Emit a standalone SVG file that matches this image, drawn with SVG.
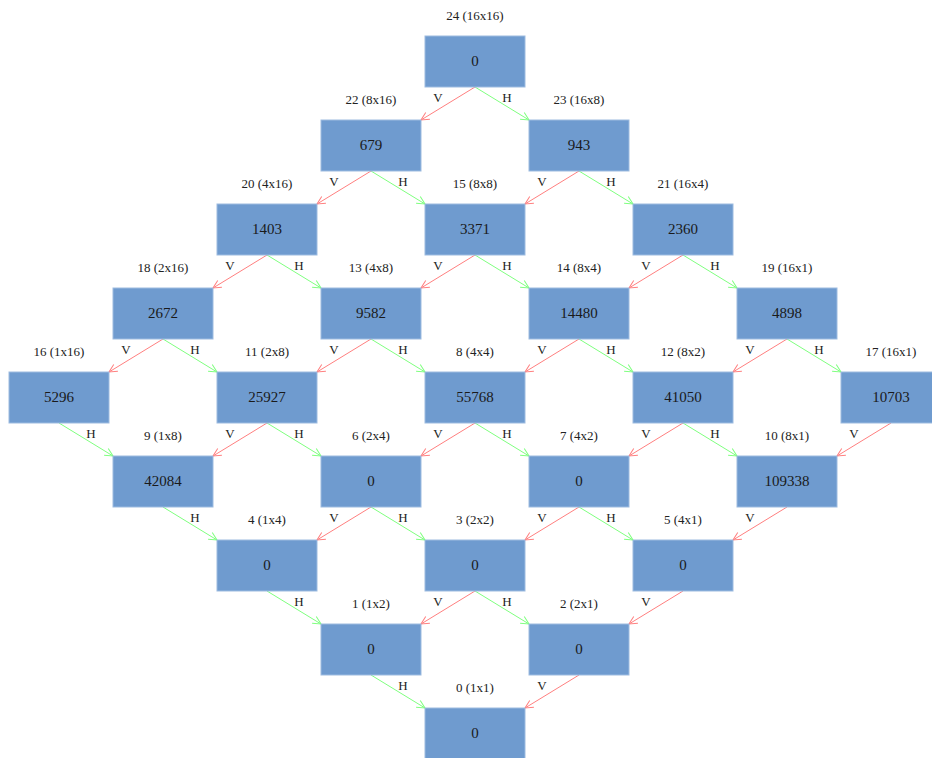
<svg xmlns="http://www.w3.org/2000/svg" width="932" height="758" viewBox="0 0 932 758">
<style>
.box{fill:#6F9BCF;stroke:#9DBBE0;stroke-width:1}
.lbl{font-family:"Liberation Serif",serif;font-size:13px;fill:#222;text-anchor:middle}
.val{font-family:"Liberation Serif",serif;font-size:15px;fill:#1a1a1a;text-anchor:middle}
.el{font-family:"Liberation Serif",serif;font-size:13px;fill:#222;text-anchor:middle}
.v{stroke:#FF7F7F;stroke-width:1;fill:none;marker-end:url(#ar)}
.h{stroke:#7FFF7F;stroke-width:1;fill:none;marker-end:url(#ag)}
</style>
<defs>
<marker id="ar" markerWidth="10" markerHeight="10" refX="9" refY="5" orient="auto" markerUnits="userSpaceOnUse"><path d="M1,1 L9,5 L1,9" fill="none" stroke="#FF7F7F" stroke-width="1"/></marker>
<marker id="ag" markerWidth="10" markerHeight="10" refX="9" refY="5" orient="auto" markerUnits="userSpaceOnUse"><path d="M1,1 L9,5 L1,9" fill="none" stroke="#7FFF7F" stroke-width="1"/></marker>
</defs>
<rect width="932" height="758" fill="#fff"/>
<g id="connectors">
<line class="v" x1="475" y1="87" x2="421" y2="120"/><line class="h" x1="475" y1="87" x2="529" y2="120"/>
<line class="v" x1="371" y1="171" x2="317" y2="204"/><line class="h" x1="371" y1="171" x2="425" y2="204"/>
<line class="v" x1="579" y1="171" x2="525" y2="204"/><line class="h" x1="579" y1="171" x2="633" y2="204"/>
<line class="v" x1="267" y1="255" x2="213" y2="288"/><line class="h" x1="267" y1="255" x2="321" y2="288"/>
<line class="v" x1="475" y1="255" x2="421" y2="288"/><line class="h" x1="475" y1="255" x2="529" y2="288"/>
<line class="v" x1="683" y1="255" x2="629" y2="288"/><line class="h" x1="683" y1="255" x2="737" y2="288"/>
<line class="v" x1="163" y1="339" x2="109" y2="372"/><line class="h" x1="163" y1="339" x2="217" y2="372"/>
<line class="v" x1="371" y1="339" x2="317" y2="372"/><line class="h" x1="371" y1="339" x2="425" y2="372"/>
<line class="v" x1="579" y1="339" x2="525" y2="372"/><line class="h" x1="579" y1="339" x2="633" y2="372"/>
<line class="v" x1="787" y1="339" x2="733" y2="372"/><line class="h" x1="787" y1="339" x2="841" y2="372"/>
<line class="h" x1="59" y1="423" x2="113" y2="456"/>
<line class="v" x1="267" y1="423" x2="213" y2="456"/><line class="h" x1="267" y1="423" x2="321" y2="456"/>
<line class="v" x1="475" y1="423" x2="421" y2="456"/><line class="h" x1="475" y1="423" x2="529" y2="456"/>
<line class="v" x1="683" y1="423" x2="629" y2="456"/><line class="h" x1="683" y1="423" x2="737" y2="456"/>
<line class="v" x1="891" y1="423" x2="837" y2="456"/>
<line class="h" x1="163" y1="507" x2="217" y2="540"/>
<line class="v" x1="371" y1="507" x2="317" y2="540"/><line class="h" x1="371" y1="507" x2="425" y2="540"/>
<line class="v" x1="579" y1="507" x2="525" y2="540"/><line class="h" x1="579" y1="507" x2="633" y2="540"/>
<line class="v" x1="787" y1="507" x2="733" y2="540"/>
<line class="h" x1="267" y1="591" x2="321" y2="624"/>
<line class="v" x1="475" y1="591" x2="421" y2="624"/><line class="h" x1="475" y1="591" x2="529" y2="624"/>
<line class="v" x1="683" y1="591" x2="629" y2="624"/>
<line class="h" x1="371" y1="675" x2="425" y2="708"/>
<line class="v" x1="579" y1="675" x2="525" y2="708"/>
<text class="el" x="438" y="102">V</text><text class="el" x="507" y="102">H</text>
<text class="el" x="334" y="186">V</text><text class="el" x="403" y="186">H</text>
<text class="el" x="542" y="186">V</text><text class="el" x="611" y="186">H</text>
<text class="el" x="230" y="270">V</text><text class="el" x="299" y="270">H</text>
<text class="el" x="438" y="270">V</text><text class="el" x="507" y="270">H</text>
<text class="el" x="646" y="270">V</text><text class="el" x="715" y="270">H</text>
<text class="el" x="126" y="354">V</text><text class="el" x="195" y="354">H</text>
<text class="el" x="334" y="354">V</text><text class="el" x="403" y="354">H</text>
<text class="el" x="542" y="354">V</text><text class="el" x="611" y="354">H</text>
<text class="el" x="750" y="354">V</text><text class="el" x="819" y="354">H</text>
<text class="el" x="91" y="438">H</text>
<text class="el" x="230" y="438">V</text><text class="el" x="299" y="438">H</text>
<text class="el" x="438" y="438">V</text><text class="el" x="507" y="438">H</text>
<text class="el" x="646" y="438">V</text><text class="el" x="715" y="438">H</text>
<text class="el" x="854" y="438">V</text>
<text class="el" x="195" y="522">H</text>
<text class="el" x="334" y="522">V</text><text class="el" x="403" y="522">H</text>
<text class="el" x="542" y="522">V</text><text class="el" x="611" y="522">H</text>
<text class="el" x="750" y="522">V</text>
<text class="el" x="299" y="606">H</text>
<text class="el" x="438" y="606">V</text><text class="el" x="507" y="606">H</text>
<text class="el" x="646" y="606">V</text>
<text class="el" x="403" y="690">H</text>
<text class="el" x="542" y="690">V</text>
</g>
<g id="n24"><text class="lbl" x="475" y="20">24 (16x16)</text><rect class="box" x="425" y="36" width="100" height="51"/><text class="val" x="475" y="66">0</text></g>
<g id="n22"><text class="lbl" x="371" y="104">22 (8x16)</text><rect class="box" x="321" y="120" width="100" height="51"/><text class="val" x="371" y="150">679</text></g>
<g id="n23"><text class="lbl" x="579" y="104">23 (16x8)</text><rect class="box" x="529" y="120" width="100" height="51"/><text class="val" x="579" y="150">943</text></g>
<g id="n20"><text class="lbl" x="267" y="188">20 (4x16)</text><rect class="box" x="217" y="204" width="100" height="51"/><text class="val" x="267" y="234">1403</text></g>
<g id="n15"><text class="lbl" x="475" y="188">15 (8x8)</text><rect class="box" x="425" y="204" width="100" height="51"/><text class="val" x="475" y="234">3371</text></g>
<g id="n21"><text class="lbl" x="683" y="188">21 (16x4)</text><rect class="box" x="633" y="204" width="100" height="51"/><text class="val" x="683" y="234">2360</text></g>
<g id="n18"><text class="lbl" x="163" y="272">18 (2x16)</text><rect class="box" x="113" y="288" width="100" height="51"/><text class="val" x="163" y="318">2672</text></g>
<g id="n13"><text class="lbl" x="371" y="272">13 (4x8)</text><rect class="box" x="321" y="288" width="100" height="51"/><text class="val" x="371" y="318">9582</text></g>
<g id="n14"><text class="lbl" x="579" y="272">14 (8x4)</text><rect class="box" x="529" y="288" width="100" height="51"/><text class="val" x="579" y="318">14480</text></g>
<g id="n19"><text class="lbl" x="787" y="272">19 (16x1)</text><rect class="box" x="737" y="288" width="100" height="51"/><text class="val" x="787" y="318">4898</text></g>
<g id="n16"><text class="lbl" x="59" y="356">16 (1x16)</text><rect class="box" x="9" y="372" width="100" height="51"/><text class="val" x="59" y="402">5296</text></g>
<g id="n11"><text class="lbl" x="267" y="356">11 (2x8)</text><rect class="box" x="217" y="372" width="100" height="51"/><text class="val" x="267" y="402">25927</text></g>
<g id="n8"><text class="lbl" x="475" y="356">8 (4x4)</text><rect class="box" x="425" y="372" width="100" height="51"/><text class="val" x="475" y="402">55768</text></g>
<g id="n12"><text class="lbl" x="683" y="356">12 (8x2)</text><rect class="box" x="633" y="372" width="100" height="51"/><text class="val" x="683" y="402">41050</text></g>
<g id="n17"><text class="lbl" x="891" y="356">17 (16x1)</text><rect class="box" x="841" y="372" width="100" height="51"/><text class="val" x="891" y="402">10703</text></g>
<g id="n9"><text class="lbl" x="163" y="440">9 (1x8)</text><rect class="box" x="113" y="456" width="100" height="51"/><text class="val" x="163" y="486">42084</text></g>
<g id="n6"><text class="lbl" x="371" y="440">6 (2x4)</text><rect class="box" x="321" y="456" width="100" height="51"/><text class="val" x="371" y="486">0</text></g>
<g id="n7"><text class="lbl" x="579" y="440">7 (4x2)</text><rect class="box" x="529" y="456" width="100" height="51"/><text class="val" x="579" y="486">0</text></g>
<g id="n10"><text class="lbl" x="787" y="440">10 (8x1)</text><rect class="box" x="737" y="456" width="100" height="51"/><text class="val" x="787" y="486">109338</text></g>
<g id="n4"><text class="lbl" x="267" y="524">4 (1x4)</text><rect class="box" x="217" y="540" width="100" height="51"/><text class="val" x="267" y="570">0</text></g>
<g id="n3"><text class="lbl" x="475" y="524">3 (2x2)</text><rect class="box" x="425" y="540" width="100" height="51"/><text class="val" x="475" y="570">0</text></g>
<g id="n5"><text class="lbl" x="683" y="524">5 (4x1)</text><rect class="box" x="633" y="540" width="100" height="51"/><text class="val" x="683" y="570">0</text></g>
<g id="n1"><text class="lbl" x="371" y="608">1 (1x2)</text><rect class="box" x="321" y="624" width="100" height="51"/><text class="val" x="371" y="654">0</text></g>
<g id="n2"><text class="lbl" x="579" y="608">2 (2x1)</text><rect class="box" x="529" y="624" width="100" height="51"/><text class="val" x="579" y="654">0</text></g>
<g id="n0"><text class="lbl" x="475" y="692">0 (1x1)</text><rect class="box" x="425" y="708" width="100" height="51"/><text class="val" x="475" y="738">0</text></g>
</svg>
